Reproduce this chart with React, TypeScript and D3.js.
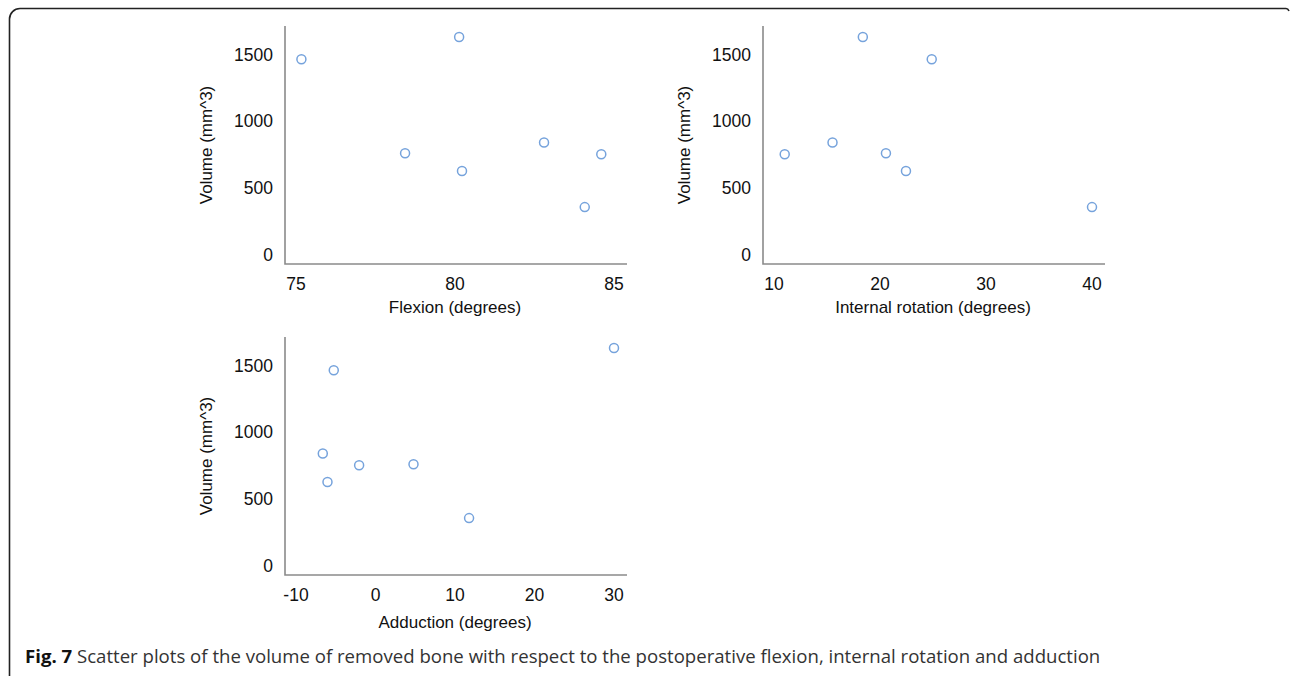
import React from "react";
import * as d3 from "d3";

const volume = [1630, 1463, 838, 758, 750, 625, 354];
const flexion = [80.13, 75.17, 82.8, 78.43, 84.6, 80.22, 84.08];
const internalRotation = [18.38, 24.88, 15.52, 20.56, 11.01, 22.45, 40.0];
const adduction = [30.0, -5.25, -6.63, 4.78, -2.06, -6.04, 11.77];

const flexionTicks = [75, 80, 85];
const rotationTicks = [10, 20, 30, 40];
const adductionTicks = [-10, 0, 10, 20, 30];
const volumeTicks = [0, 500, 1000, 1500];

const yTitle = "Volume (mm^3)";
const captionBold = "Fig. 7";
const captionText =
  " Scatter plots of the volume of removed bone with respect to the postoperative flexion, internal rotation and adduction";

const FONT = "'Liberation Sans', Arial, Helvetica, sans-serif";

type PanelProps = {
  xs: number[];
  ys: number[];
  xTicks: number[];
  xTitle: string;
  axisX: number;
  top: number;
  bottom: number;
  right: number;
  titleY: number;
};

function Panel({ xs, ys, xTicks, xTitle, axisX, top, bottom, right, titleY }: PanelProps) {
  const x = d3
    .scaleLinear()
    .domain([xTicks[0], xTicks[xTicks.length - 1]])
    .range([axisX + 11, right - 13]);
  const y = d3
    .scaleLinear()
    .domain([0, 1500])
    .range([bottom - 9.7, bottom - 209.7]);
  const mid = (axisX + 11 + right - 13) / 2;
  return (
    <g>
      <path
        d={`M${axisX},${top}V${bottom}H${right}`}
        fill="none"
        stroke="#8a8a8a"
        strokeWidth={1.6}
      />
      {volumeTicks.map((t) => (
        <text
          key={"y" + t}
          x={axisX - 12}
          y={y(t)}
          dy="0.36em"
          textAnchor="end"
          fontSize={17.5}
          fontFamily={FONT}
          fill="#111"
        >
          {t}
        </text>
      ))}
      {xTicks.map((t) => (
        <text
          key={"x" + t}
          x={x(t)}
          y={bottom + 20}
          dy="0.36em"
          textAnchor="middle"
          fontSize={17.5}
          fontFamily={FONT}
          fill="#111"
        >
          {t}
        </text>
      ))}
      <text
        x={mid}
        y={titleY}
        dy="0.36em"
        textAnchor="middle"
        fontSize={17}
        fontFamily={FONT}
        fill="#111"
      >
        {xTitle}
      </text>
      <text
        transform={`translate(${axisX - 79},${(top + bottom) / 2}) rotate(-90)`}
        dy="0.36em"
        textAnchor="middle"
        fontSize={17}
        fontFamily={FONT}
        fill="#111"
      >
        {yTitle}
      </text>
      {xs.map((v, i) => (
        <circle
          key={i}
          cx={x(v)}
          cy={y(ys[i])}
          r={4.5}
          fill="none"
          stroke="#76a3dc"
          strokeWidth={1.5}
        />
      ))}
    </g>
  );
}

export default function App() {
  return (
    <div style={{ position: "fixed", left: 0, top: 0, width: 1290, height: 676, background: "#fff" }}>
      <svg width={1290} height={676} viewBox="0 0 1290 676">
        <rect width={1290} height={676} fill="#fff" />
        <path
          d="M9.5,676V19A10.5,10.5 0 0 1 20,8.5H1286Q1288,8.5 1289,11"
          fill="none"
          stroke="#222"
          strokeWidth={1.6}
        />
        <Panel
          xs={flexion}
          ys={volume}
          xTicks={flexionTicks}
          xTitle="Flexion (degrees)"
          axisX={285}
          top={26}
          bottom={264}
          right={627}
          titleY={307}
        />
        <Panel
          xs={internalRotation}
          ys={volume}
          xTicks={rotationTicks}
          xTitle="Internal rotation (degrees)"
          axisX={763}
          top={26}
          bottom={264}
          right={1105}
          titleY={307}
        />
        <Panel
          xs={adduction}
          ys={volume}
          xTicks={adductionTicks}
          xTitle="Adduction (degrees)"
          axisX={285}
          top={337}
          bottom={575}
          right={627}
          titleY={622}
        />
        <text x={25} y={663} fontSize={18.6} fontFamily="'Open Sans', 'Noto Sans', sans-serif" fill="#333">
          <tspan fontWeight="bold" fill="#111">{captionBold}</tspan>
          <tspan>{captionText}</tspan>
        </text>
      </svg>
    </div>
  );
}
